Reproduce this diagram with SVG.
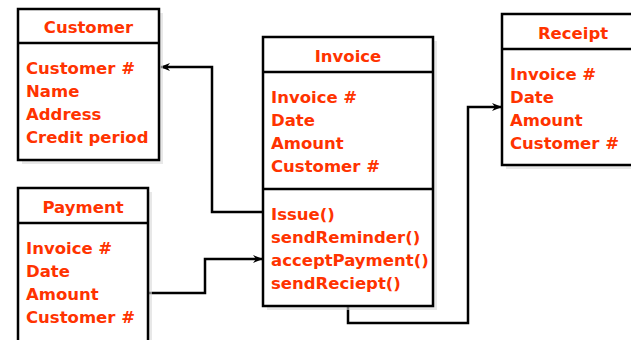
<svg xmlns="http://www.w3.org/2000/svg" width="631" height="340" viewBox="0 0 631 340">
<defs>
<style>
.box{fill:#fff;stroke:#000;stroke-width:2.5}
.sh{fill:#d8d8d8;opacity:0.6}
.div{stroke:#000;stroke-width:2.5}
.t{font-family:"DejaVu Sans",Verdana,sans-serif;font-weight:bold;font-size:16.5px;fill:#ff3300}
.ttl{text-anchor:middle}
.con{fill:none;stroke:#000;stroke-width:2.5}
</style>
<marker id="arr" viewBox="0 0 10 10" refX="9" refY="5" markerWidth="10" markerHeight="10" markerUnits="userSpaceOnUse" orient="auto">
<path d="M0,1 L10,5 L0,9 L3,5 Z" fill="#000"/>
</marker>
</defs>
<rect width="631" height="340" fill="#fff"/>
<g id="connectors">
<polyline class="con" points="263,212 212,212 212,67 161,67" marker-end="url(#arr)"/>
<polyline class="con" points="148,293 205,293 205,259 262,259" marker-end="url(#arr)"/>
<polyline class="con" points="348,306 348,323 468,323 468,107 501,107" marker-end="url(#arr)"/>
</g>
<g id="customer">
<rect class="sh" x="22" y="13" width="141" height="151"/>
<rect class="box" x="18" y="9" width="141" height="151"/>
<line class="div" x1="18" y1="43" x2="159" y2="43"/>
<text class="t ttl" x="88.5" y="33">Customer</text>
<text class="t" x="26" y="74">Customer #</text>
<text class="t" x="26" y="97">Name</text>
<text class="t" x="26" y="120">Address</text>
<text class="t" x="26" y="143">Credit period</text>
</g>
<g id="payment">
<rect class="sh" x="22" y="192" width="130" height="160"/>
<rect class="box" x="18" y="188" width="130" height="160"/>
<line class="div" x1="18" y1="223" x2="148" y2="223"/>
<text class="t ttl" x="83" y="213">Payment</text>
<text class="t" x="26" y="254">Invoice #</text>
<text class="t" x="26" y="277">Date</text>
<text class="t" x="26" y="300">Amount</text>
<text class="t" x="26" y="323">Customer #</text>
</g>
<g id="invoice">
<rect class="sh" x="267" y="41" width="170" height="269"/>
<rect class="box" x="263" y="37" width="170" height="269"/>
<line class="div" x1="263" y1="72" x2="433" y2="72"/>
<line class="div" x1="263" y1="189" x2="433" y2="189"/>
<text class="t ttl" x="348" y="62">Invoice</text>
<text class="t" x="271" y="103">Invoice #</text>
<text class="t" x="271" y="126">Date</text>
<text class="t" x="271" y="149">Amount</text>
<text class="t" x="271" y="172">Customer #</text>
<text class="t" x="271" y="220">Issue()</text>
<text class="t" x="271" y="243">sendReminder()</text>
<text class="t" x="271" y="266">acceptPayment()</text>
<text class="t" x="271" y="289">sendReciept()</text>
</g>
<g id="receipt">
<rect class="sh" x="506" y="18" width="140" height="151"/>
<rect class="box" x="502" y="14" width="140" height="151"/>
<line class="div" x1="502" y1="49" x2="642" y2="49"/>
<text class="t ttl" x="573" y="39">Receipt</text>
<text class="t" x="510" y="80">Invoice #</text>
<text class="t" x="510" y="103">Date</text>
<text class="t" x="510" y="126">Amount</text>
<text class="t" x="510" y="149">Customer #</text>
</g>
</svg>
